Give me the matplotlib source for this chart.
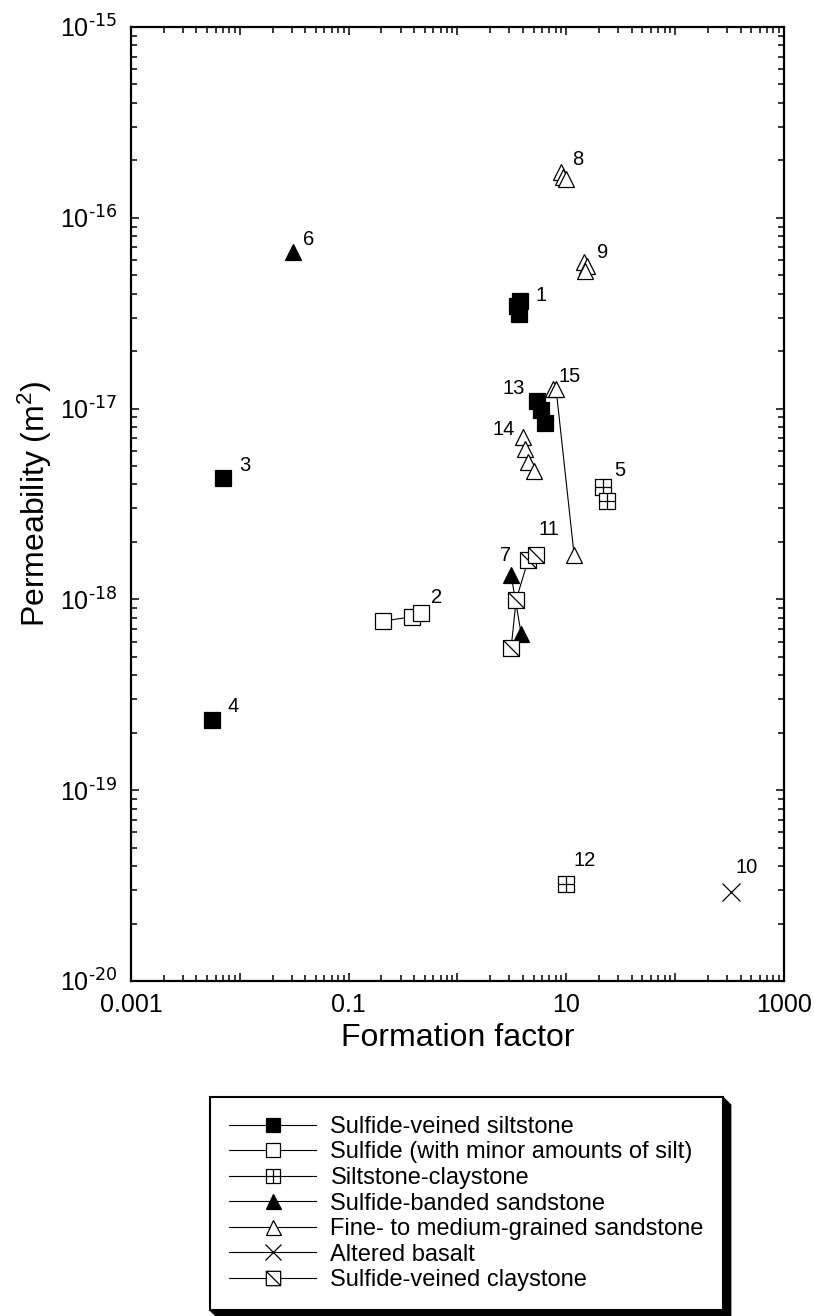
import numpy as np
import matplotlib.pyplot as plt
from matplotlib.path import Path
from matplotlib.lines import Line2D
from matplotlib.patches import Polygon

plt.rcParams['font.family'] = ['Liberation Sans', 'DejaVu Sans']
plt.rcParams['mathtext.default'] = 'regular'
plt.rcParams['axes.unicode_minus'] = False

# formation factor / permeability (m^2), one pair of lists per sample
ff1 = [3.76, 3.53, 3.68];            k1 = [3.66e-17, 3.45e-17, 3.13e-17]
ff2 = [0.207, 0.383, 0.463];         k2 = [7.7e-19, 8.1e-19, 8.5e-19]
ff3 = [0.0070];                      k3 = [4.3e-18]
ff4 = [0.00554];                     k4 = [2.33e-19]
ff5 = [21.8, 23.7];                  k5 = [3.88e-18, 3.28e-18]
ff6 = [0.0308];                      k6 = [6.62e-17]
ff7 = [3.11, 3.85];                  k7 = [1.34e-18, 6.59e-19]
ff8 = [8.96, 9.35, 9.96];            k8 = [1.74e-16, 1.64e-16, 1.60e-16]
ff9 = [14.6, 15.5, 14.9];            k9 = [5.86e-17, 5.59e-17, 5.26e-17]
ff10 = [327];                        k10 = [2.92e-20]
ff11 = [3.11, 3.46, 4.46, 5.28];     k11 = [5.56e-19, 9.93e-19, 1.61e-18, 1.71e-18]
ff12 = [9.96];                       k12 = [3.22e-20]
ff13 = [5.40, 5.86, 6.38];           k13 = [1.10e-17, 9.84e-18, 8.4e-18]
ff14 = [4.01, 4.18, 4.46, 5.06];     k14 = [7.10e-18, 6.14e-18, 5.25e-18, 4.71e-18]
ff15 = [7.57, 8.05, 11.8];           k15 = [1.27e-17, 1.27e-17, 1.71e-18]

rock_types = ['Sulfide-veined siltstone',
              'Sulfide (with minor amounts of silt)',
              'Siltstone-claystone',
              'Sulfide-banded sandstone',
              'Fine- to medium-grained sandstone',
              'Altered basalt',
              'Sulfide-veined claystone']

# sample number -> (rock type index, ff, k)
samples = {1: (0, ff1, k1), 3: (0, ff3, k3), 4: (0, ff4, k4), 13: (0, ff13, k13),
           2: (1, ff2, k2),
           5: (2, ff5, k5), 12: (2, ff12, k12),
           6: (3, ff6, k6), 7: (3, ff7, k7),
           8: (4, ff8, k8), 9: (4, ff9, k9), 14: (4, ff14, k14), 15: (4, ff15, k15),
           10: (5, ff10, k10),
           11: (6, ff11, k11)}

xticks = [1e-3, 1e-2, 1e-1, 1e0, 1e1, 1e2, 1e3]
xtick_labels = ['0.001', '', '0.1', '', '10', '', '1000']
yticks = [1e-20, 1e-19, 1e-18, 1e-17, 1e-16, 1e-15]
ytick_labels = [r'$10^{\text{-20}}$', r'$10^{\text{-19}}$', r'$10^{\text{-18}}$',
                r'$10^{\text{-17}}$', r'$10^{\text{-16}}$', r'$10^{\text{-15}}$']

# custom marker shapes
sq = [(-1, -1), (1, -1), (1, 1), (-1, 1), (-1, -1)]
sq_codes = [Path.MOVETO] + [Path.LINETO] * 3 + [Path.CLOSEPOLY]
plus_sq = Path(sq + [(0, -1), (0, 1), (-1, 0), (1, 0)],
               sq_codes + [Path.MOVETO, Path.LINETO, Path.MOVETO, Path.LINETO])
diag_sq = Path(sq + [(-1, 1), (1, -1)], sq_codes + [Path.MOVETO, Path.LINETO])

styles = [dict(marker='s', mfc='black', ms=11.5),
          dict(marker='s', mfc='white', ms=11.5),
          dict(marker=plus_sq, mfc='white', ms=11.5),
          dict(marker='^', mfc='black', ms=12),
          dict(marker='^', mfc='white', ms=12),
          dict(marker='x', mfc='none', ms=12.5),
          dict(marker=diag_sq, mfc='white', ms=11.5)]

# label offsets in points relative to first point of each sample
label_off = {1: (15, 4), 2: (11, 11), 3: (16, 9), 4: (15, 10), 5: (12, 12), 6: (11, 9),
             7: (-4, 14), 8: (12, 9), 9: (13, 7), 10: (11, 18), 11: (9, 18), 12: (13, 17),
             13: (-17, 9), 14: (-14, 5), 15: (12, 9)}
label_anchor = {2: -1, 11: -1}

fig = plt.figure(figsize=(8.14, 13.16), dpi=100)
ax = fig.add_axes([0.1609, 0.2546, 0.8022, 0.7249])

for num, (t, ff, k) in samples.items():
    ax.plot(ff, k, color='black', lw=0.8, mec='black', mew=0.9, **styles[t])
    i = label_anchor.get(num, 0)
    ax.annotate(str(num), (ff[i], k[i]), xytext=label_off[num], textcoords='offset points',
                ha='center', va='center', fontsize=14.5)

ax.set_xscale('log')
ax.set_yscale('log')
ax.set_xlim(1e-3, 1e3)
ax.set_ylim(1e-20, 1e-15)
ax.set_xticks(xticks, xtick_labels)
ax.set_yticks(yticks, ytick_labels)
ax.xaxis.set_minor_locator(plt.LogLocator(base=10, subs=np.arange(2, 10), numticks=20))
ax.yaxis.set_minor_locator(plt.LogLocator(base=10, subs=np.arange(2, 10), numticks=20))
ax.xaxis.set_minor_formatter(plt.NullFormatter())
ax.yaxis.set_minor_formatter(plt.NullFormatter())
ax.tick_params(which='both', direction='in', top=True, right=True, labelsize=18)
ax.tick_params(which='major', length=6, width=1.1)
ax.tick_params(which='minor', length=4, width=1.1)
ax.tick_params(axis='x', pad=9)
ax.tick_params(axis='y', pad=10)
for s in ax.spines.values():
    s.set_linewidth(1.6)

ax.set_xlabel('Formation factor', fontsize=23, labelpad=4)
ax.set_ylabel('Permeability (m$^2$)', fontsize=23, labelpad=4)

handles = [Line2D([], [], color='black', lw=0.8, mec='black', mew=0.9, **st) for st in styles]
leg = fig.legend(handles, rock_types, loc='upper left', bbox_to_anchor=(0.258, 0.1664),
                 borderaxespad=0, fontsize=17, handlelength=3.7, handletextpad=0.6,
                 labelspacing=0.15, borderpad=0.8, markerscale=0.9, fancybox=False,
                 framealpha=1, edgecolor='black')
leg.get_frame().set_linewidth(1.5)

# bevelled black shadow behind the legend box
fig.canvas.draw()
bb = leg.get_window_extent().transformed(fig.transFigure.inverted())
dx, dy = 8 / 814, 8 / 1316
shadow = Polygon([(bb.x1, bb.y1), (bb.x1 + dx, bb.y1 - dy), (bb.x1 + dx, bb.y0 - dy),
                  (bb.x0 + dx, bb.y0 - dy), (bb.x0, bb.y0), (bb.x1, bb.y0)],
                 closed=True, transform=fig.transFigure, facecolor='black',
                 edgecolor='black', zorder=1)
fig.patches.append(shadow)

plt.savefig('out.png', dpi=100)
